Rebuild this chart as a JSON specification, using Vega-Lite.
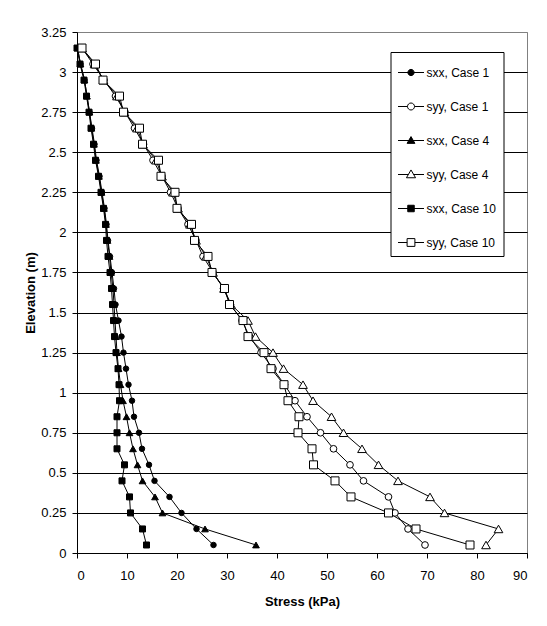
{
  "$schema": "https://vega.github.io/schema/vega-lite/v6.json",
  "autosize": {"type": "none"},
  "width": 450,
  "height": 521,
  "padding": {"left": 77, "top": 32, "right": 20, "bottom": 73},
  "background": "white",
  "config": {
    "view": {"stroke": "#808080", "strokeWidth": 1},
    "font": "Liberation Sans"
  },
  "data": {"values": [
    {"s":"sxx, Case 1","e":3.15,"v":0.1},{"s":"sxx, Case 1","e":3.05,"v":0.7},{"s":"sxx, Case 1","e":2.95,"v":1.5},{"s":"sxx, Case 1","e":2.85,"v":2.0},{"s":"sxx, Case 1","e":2.75,"v":2.5},{"s":"sxx, Case 1","e":2.65,"v":3.0},{"s":"sxx, Case 1","e":2.55,"v":3.5},{"s":"sxx, Case 1","e":2.45,"v":3.9},{"s":"sxx, Case 1","e":2.35,"v":4.5},{"s":"sxx, Case 1","e":2.25,"v":5.0},{"s":"sxx, Case 1","e":2.15,"v":5.5},{"s":"sxx, Case 1","e":2.05,"v":5.9},{"s":"sxx, Case 1","e":1.95,"v":6.2},{"s":"sxx, Case 1","e":1.85,"v":6.6},{"s":"sxx, Case 1","e":1.75,"v":7.0},{"s":"sxx, Case 1","e":1.65,"v":7.4},{"s":"sxx, Case 1","e":1.55,"v":7.7},{"s":"sxx, Case 1","e":1.45,"v":8.3},{"s":"sxx, Case 1","e":1.35,"v":8.9},{"s":"sxx, Case 1","e":1.25,"v":9.3},{"s":"sxx, Case 1","e":1.15,"v":9.8},{"s":"sxx, Case 1","e":1.05,"v":10.3},{"s":"sxx, Case 1","e":0.95,"v":11.0},{"s":"sxx, Case 1","e":0.85,"v":11.4},{"s":"sxx, Case 1","e":0.75,"v":12.4},{"s":"sxx, Case 1","e":0.65,"v":13.0},{"s":"sxx, Case 1","e":0.55,"v":14.4},{"s":"sxx, Case 1","e":0.45,"v":15.5},{"s":"sxx, Case 1","e":0.35,"v":18.5},{"s":"sxx, Case 1","e":0.25,"v":20.9},{"s":"sxx, Case 1","e":0.15,"v":23.9},{"s":"sxx, Case 1","e":0.05,"v":27.3},
    {"s":"syy, Case 1","e":3.15,"v":1.0},{"s":"syy, Case 1","e":3.05,"v":3.2},{"s":"syy, Case 1","e":2.95,"v":5.4},{"s":"syy, Case 1","e":2.85,"v":7.7},{"s":"syy, Case 1","e":2.75,"v":9.6},{"s":"syy, Case 1","e":2.65,"v":11.5},{"s":"syy, Case 1","e":2.55,"v":13.3},{"s":"syy, Case 1","e":2.45,"v":15.2},{"s":"syy, Case 1","e":2.35,"v":17.0},{"s":"syy, Case 1","e":2.25,"v":18.7},{"s":"syy, Case 1","e":2.15,"v":20.2},{"s":"syy, Case 1","e":2.05,"v":22.2},{"s":"syy, Case 1","e":1.95,"v":23.8},{"s":"syy, Case 1","e":1.85,"v":25.2},{"s":"syy, Case 1","e":1.75,"v":27.2},{"s":"syy, Case 1","e":1.65,"v":29.3},{"s":"syy, Case 1","e":1.55,"v":30.7},{"s":"syy, Case 1","e":1.45,"v":33.0},{"s":"syy, Case 1","e":1.35,"v":34.5},{"s":"syy, Case 1","e":1.25,"v":36.8},{"s":"syy, Case 1","e":1.15,"v":39.2},{"s":"syy, Case 1","e":1.05,"v":41.5},{"s":"syy, Case 1","e":0.95,"v":43.6},{"s":"syy, Case 1","e":0.85,"v":46.0},{"s":"syy, Case 1","e":0.75,"v":48.7},{"s":"syy, Case 1","e":0.65,"v":51.3},{"s":"syy, Case 1","e":0.55,"v":54.6},{"s":"syy, Case 1","e":0.45,"v":57.3},{"s":"syy, Case 1","e":0.35,"v":62.3},{"s":"syy, Case 1","e":0.25,"v":63.6},{"s":"syy, Case 1","e":0.15,"v":66.2},{"s":"syy, Case 1","e":0.05,"v":69.6},
    {"s":"sxx, Case 4","e":3.15,"v":0.1},{"s":"sxx, Case 4","e":3.05,"v":0.7},{"s":"sxx, Case 4","e":2.95,"v":1.5},{"s":"sxx, Case 4","e":2.85,"v":2.0},{"s":"sxx, Case 4","e":2.75,"v":2.5},{"s":"sxx, Case 4","e":2.65,"v":2.9},{"s":"sxx, Case 4","e":2.55,"v":3.4},{"s":"sxx, Case 4","e":2.45,"v":3.8},{"s":"sxx, Case 4","e":2.35,"v":4.4},{"s":"sxx, Case 4","e":2.25,"v":4.9},{"s":"sxx, Case 4","e":2.15,"v":5.4},{"s":"sxx, Case 4","e":2.05,"v":5.8},{"s":"sxx, Case 4","e":1.95,"v":6.1},{"s":"sxx, Case 4","e":1.85,"v":6.5},{"s":"sxx, Case 4","e":1.75,"v":6.8},{"s":"sxx, Case 4","e":1.65,"v":7.2},{"s":"sxx, Case 4","e":1.55,"v":7.4},{"s":"sxx, Case 4","e":1.45,"v":7.6},{"s":"sxx, Case 4","e":1.35,"v":7.8},{"s":"sxx, Case 4","e":1.25,"v":8.0},{"s":"sxx, Case 4","e":1.15,"v":8.3},{"s":"sxx, Case 4","e":1.05,"v":8.7},{"s":"sxx, Case 4","e":0.95,"v":9.2},{"s":"sxx, Case 4","e":0.85,"v":9.9},{"s":"sxx, Case 4","e":0.75,"v":10.5},{"s":"sxx, Case 4","e":0.65,"v":11.2},{"s":"sxx, Case 4","e":0.55,"v":12.1},{"s":"sxx, Case 4","e":0.45,"v":13.1},{"s":"sxx, Case 4","e":0.35,"v":15.6},{"s":"sxx, Case 4","e":0.25,"v":17.1},{"s":"sxx, Case 4","e":0.15,"v":25.6},{"s":"sxx, Case 4","e":0.05,"v":35.8},
    {"s":"syy, Case 4","e":3.15,"v":1.0},{"s":"syy, Case 4","e":3.05,"v":3.5},{"s":"syy, Case 4","e":2.95,"v":5.3},{"s":"syy, Case 4","e":2.85,"v":8.0},{"s":"syy, Case 4","e":2.75,"v":9.5},{"s":"syy, Case 4","e":2.65,"v":12.0},{"s":"syy, Case 4","e":2.55,"v":13.2},{"s":"syy, Case 4","e":2.45,"v":15.8},{"s":"syy, Case 4","e":2.35,"v":17.0},{"s":"syy, Case 4","e":2.25,"v":19.2},{"s":"syy, Case 4","e":2.15,"v":20.2},{"s":"syy, Case 4","e":2.05,"v":22.6},{"s":"syy, Case 4","e":1.95,"v":23.8},{"s":"syy, Case 4","e":1.85,"v":25.8},{"s":"syy, Case 4","e":1.75,"v":27.2},{"s":"syy, Case 4","e":1.65,"v":29.4},{"s":"syy, Case 4","e":1.55,"v":30.8},{"s":"syy, Case 4","e":1.45,"v":34.2},{"s":"syy, Case 4","e":1.35,"v":35.7},{"s":"syy, Case 4","e":1.25,"v":39.2},{"s":"syy, Case 4","e":1.15,"v":41.3},{"s":"syy, Case 4","e":1.05,"v":45.2},{"s":"syy, Case 4","e":0.95,"v":47.2},{"s":"syy, Case 4","e":0.85,"v":50.9},{"s":"syy, Case 4","e":0.75,"v":53.3},{"s":"syy, Case 4","e":0.65,"v":57.0},{"s":"syy, Case 4","e":0.55,"v":60.3},{"s":"syy, Case 4","e":0.45,"v":64.2},{"s":"syy, Case 4","e":0.35,"v":70.6},{"s":"syy, Case 4","e":0.25,"v":73.5},{"s":"syy, Case 4","e":0.15,"v":84.3},{"s":"syy, Case 4","e":0.05,"v":81.8},
    {"s":"sxx, Case 10","e":3.15,"v":0.0},{"s":"sxx, Case 10","e":3.05,"v":0.6},{"s":"sxx, Case 10","e":2.95,"v":1.4},{"s":"sxx, Case 10","e":2.85,"v":1.9},{"s":"sxx, Case 10","e":2.75,"v":2.4},{"s":"sxx, Case 10","e":2.65,"v":2.8},{"s":"sxx, Case 10","e":2.55,"v":3.3},{"s":"sxx, Case 10","e":2.45,"v":3.7},{"s":"sxx, Case 10","e":2.35,"v":4.3},{"s":"sxx, Case 10","e":2.25,"v":4.8},{"s":"sxx, Case 10","e":2.15,"v":5.3},{"s":"sxx, Case 10","e":2.05,"v":5.7},{"s":"sxx, Case 10","e":1.95,"v":5.9},{"s":"sxx, Case 10","e":1.85,"v":6.2},{"s":"sxx, Case 10","e":1.75,"v":6.6},{"s":"sxx, Case 10","e":1.65,"v":6.9},{"s":"sxx, Case 10","e":1.55,"v":7.1},{"s":"sxx, Case 10","e":1.45,"v":7.3},{"s":"sxx, Case 10","e":1.35,"v":7.5},{"s":"sxx, Case 10","e":1.25,"v":7.8},{"s":"sxx, Case 10","e":1.15,"v":8.2},{"s":"sxx, Case 10","e":1.05,"v":8.4},{"s":"sxx, Case 10","e":0.95,"v":8.5},{"s":"sxx, Case 10","e":0.85,"v":8.0},{"s":"sxx, Case 10","e":0.75,"v":8.0},{"s":"sxx, Case 10","e":0.65,"v":8.0},{"s":"sxx, Case 10","e":0.55,"v":9.5},{"s":"sxx, Case 10","e":0.45,"v":9.0},{"s":"sxx, Case 10","e":0.35,"v":10.5},{"s":"sxx, Case 10","e":0.25,"v":10.7},{"s":"sxx, Case 10","e":0.15,"v":13.1},{"s":"sxx, Case 10","e":0.05,"v":13.9},
    {"s":"syy, Case 10","e":3.15,"v":1.0},{"s":"syy, Case 10","e":3.05,"v":3.7},{"s":"syy, Case 10","e":2.95,"v":5.2},{"s":"syy, Case 10","e":2.85,"v":8.5},{"s":"syy, Case 10","e":2.75,"v":9.3},{"s":"syy, Case 10","e":2.65,"v":12.5},{"s":"syy, Case 10","e":2.55,"v":13.1},{"s":"syy, Case 10","e":2.45,"v":16.3},{"s":"syy, Case 10","e":2.35,"v":16.8},{"s":"syy, Case 10","e":2.25,"v":19.6},{"s":"syy, Case 10","e":2.15,"v":20.0},{"s":"syy, Case 10","e":2.05,"v":22.9},{"s":"syy, Case 10","e":1.95,"v":23.5},{"s":"syy, Case 10","e":1.85,"v":26.2},{"s":"syy, Case 10","e":1.75,"v":27.0},{"s":"syy, Case 10","e":1.65,"v":29.5},{"s":"syy, Case 10","e":1.55,"v":30.5},{"s":"syy, Case 10","e":1.45,"v":33.2},{"s":"syy, Case 10","e":1.35,"v":34.2},{"s":"syy, Case 10","e":1.25,"v":37.4},{"s":"syy, Case 10","e":1.15,"v":38.8},{"s":"syy, Case 10","e":1.05,"v":41.4},{"s":"syy, Case 10","e":0.95,"v":42.2},{"s":"syy, Case 10","e":0.85,"v":44.4},{"s":"syy, Case 10","e":0.75,"v":44.2},{"s":"syy, Case 10","e":0.65,"v":47.0},{"s":"syy, Case 10","e":0.55,"v":47.3},{"s":"syy, Case 10","e":0.45,"v":51.6},{"s":"syy, Case 10","e":0.35,"v":54.8},{"s":"syy, Case 10","e":0.25,"v":62.3},{"s":"syy, Case 10","e":0.15,"v":67.8},{"s":"syy, Case 10","e":0.05,"v":78.6}
  ]},
  "encoding": {
    "x": {
      "field": "v", "type": "quantitative",
      "scale": {"domain": [0, 90], "nice": false, "zero": false},
      "axis": {
        "title": "Stress (kPa)",
        "values": [0, 10, 20, 30, 40, 50, 60, 70, 80, 90],
        "grid": false,
        "domainColor": "black", "tickColor": "black", "tickSize": 5,
        "labelFont": "Liberation Sans", "labelFontSize": 13, "labelColor": "black", "labelPadding": 11,
        "titleFont": "Liberation Sans", "titleFontSize": 13, "titleFontWeight": "bold", "titleColor": "black", "titlePadding": 13
      }
    },
    "y": {
      "field": "e", "type": "quantitative",
      "scale": {"domain": [0, 3.25], "nice": false, "zero": false},
      "axis": {
        "title": "Elevation (m)",
        "values": [0, 0.25, 0.5, 0.75, 1, 1.25, 1.5, 1.75, 2, 2.25, 2.5, 2.75, 3, 3.25],
        "labelExpr": "datum.value + ''",
        "grid": true,
        "gridColor": {"condition": {"test": "datum.value >= 3.2", "value": "#808080"}, "value": "black"},
        "gridWidth": 1,
        "domainColor": "black", "tickColor": "black", "tickSize": 5,
        "labelFont": "Liberation Sans", "labelFontSize": 13, "labelColor": "black", "labelPadding": 6,
        "titleFont": "Liberation Sans", "titleFontSize": 13, "titleFontWeight": "bold", "titleColor": "black", "titlePadding": 3
      }
    }
  },
  "layer": [
    {
      "mark": {"type": "line", "strokeWidth": 1},
      "encoding": {
        "stroke": {
          "field": "s", "type": "nominal",
          "scale": {
            "domain": ["sxx, Case 1", "syy, Case 1", "sxx, Case 4", "syy, Case 4", "sxx, Case 10", "syy, Case 10"],
            "range": ["black", "black", "black", "black", "black", "black"]
          },
          "legend": {
            "title": null,
            "orient": "none",
            "legendX": 313.5,
            "legendY": 20,
            "fillColor": "white",
            "strokeColor": "black",
            "padding": 7,
            "rowPadding": 14,
            "symbolSize": 676,
            "symbolStrokeWidth": 1,
            "labelFont": "Liberation Sans",
            "labelFontSize": 12,
            "labelColor": "black",
            "labelOffset": 2,
            "encode": {
              "symbols": {
                "update": {
                  "shape": {"signal": "datum.value === 'sxx, Case 1' ? 'M-1,0H1M0.24,0A0.24,0.24,0,1,1,-0.24,0A0.24,0.24,0,1,1,0.24,0Z' : datum.value === 'syy, Case 1' ? 'M-1,0H-0.27M0.27,0H1M0.27,0A0.27,0.27,0,1,1,-0.27,0A0.27,0.27,0,1,1,0.27,0Z' : datum.value === 'sxx, Case 4' ? 'M-1,0H1M0,-0.3L0.3,0.22L-0.3,0.22Z' : datum.value === 'syy, Case 4' ? 'M-1,0H-0.2M0.2,0H1M0,-0.35L0.35,0.25L-0.35,0.25Z' : datum.value === 'sxx, Case 10' ? 'M-1,0H1M-0.25,-0.25H0.25V0.25H-0.25Z' : 'M-1,0H-0.3M0.3,0H1M-0.3,-0.3H0.3V0.3H-0.3Z'"},
                  "fill": {"signal": "indexof(datum.value, 'sxx') >= 0 ? 'black' : 'white'"},
                  "stroke": {"value": "black"},
                  "strokeWidth": {"value": 1},
                  "size": {"value": 676},
                  "opacity": {"value": 1}
                }
              }
            }
          }
        },
        "order": {"field": "e", "type": "quantitative", "sort": "descending"}
      }
    },
    {
      "transform": [{"filter": {"field": "s", "equal": "sxx, Case 1"}}],
      "mark": {"type": "point", "shape": "circle", "filled": true, "fill": "black", "stroke": "black", "strokeWidth": 1, "size": 30, "opacity": 1},
      "encoding": {}
    },
    {
      "transform": [{"filter": {"field": "s", "equal": "syy, Case 1"}}],
      "mark": {"type": "point", "shape": "circle", "filled": true, "fill": "white", "stroke": "black", "strokeWidth": 1, "size": 45, "opacity": 1},
      "encoding": {}
    },
    {
      "transform": [{"filter": {"field": "s", "equal": "sxx, Case 4"}}],
      "mark": {"type": "point", "shape": "triangle-up", "filled": true, "fill": "black", "stroke": "black", "strokeWidth": 1, "size": 45, "opacity": 1},
      "encoding": {}
    },
    {
      "transform": [{"filter": {"field": "s", "equal": "syy, Case 4"}}],
      "mark": {"type": "point", "shape": "triangle-up", "filled": true, "fill": "white", "stroke": "black", "strokeWidth": 1, "size": 75, "opacity": 1},
      "encoding": {}
    },
    {
      "transform": [{"filter": {"field": "s", "equal": "sxx, Case 10"}}],
      "mark": {"type": "point", "shape": "square", "filled": true, "fill": "black", "stroke": "black", "strokeWidth": 1, "size": 36, "opacity": 1},
      "encoding": {}
    },
    {
      "transform": [{"filter": {"field": "s", "equal": "syy, Case 10"}}],
      "mark": {"type": "point", "shape": "square", "filled": true, "fill": "white", "stroke": "black", "strokeWidth": 1, "size": 64, "opacity": 1},
      "encoding": {}
    }
  ]
}
